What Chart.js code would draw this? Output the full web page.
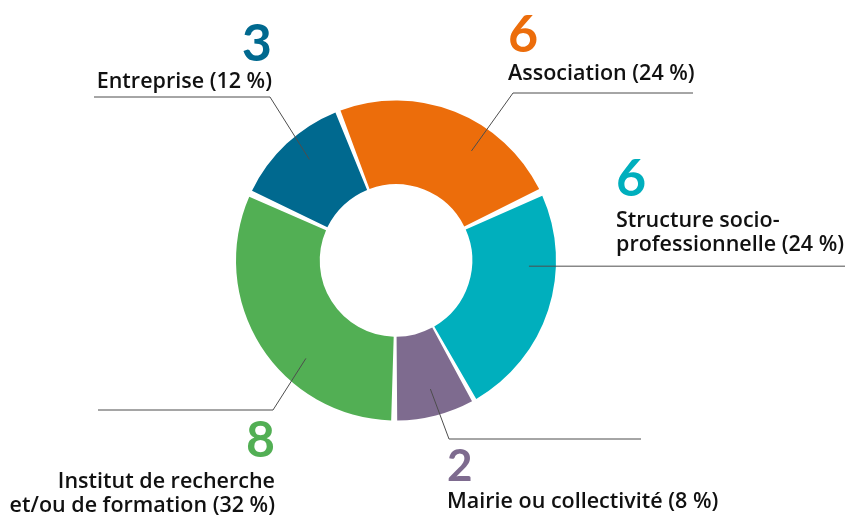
<!DOCTYPE html>
<html>
<head>
<meta charset="utf-8">
<script src="https://cdn.jsdelivr.net/npm/chart.js@4/dist/chart.umd.min.js"></script>
<style>
  html, body { margin: 0; padding: 0; background: #fff; }
  #wrap { position: relative; width: 845px; height: 517px; }
</style>
</head>
<body>
<div id="wrap"><canvas id="chart" width="845" height="517"></canvas></div>
<script>
// ── Data ──
const categories = ['Entreprise', 'Association', 'Structure socio-\nprofessionnelle', 'Mairie ou collectivité', 'Institut de recherche\net/ou de formation'];
const counts = [3, 6, 6, 2, 8];
const colors = ['#00698f', '#ec6d0b', '#00afbd', '#7e6b8f', '#52af54'];

// ── Callout layout (leader lines + text blocks) ──
const callouts = [
  { t: 0.56, elbow: [270, 97], end: 94, align: 'right', x: 272, numY: 61, numSize: 52, textY: 88 },
  { t: 0.65, elbow: [513, 93], end: 693, align: 'left', x: 508, numY: 52, numSize: 52, textY: 80 },
  { t: 0.32, elbow: null, end: 845, align: 'left', x: 616, numY: 196, numSize: 52, textY: 227 },
  { t: 0.48, elbow: [449, 439], end: 641, align: 'left', x: 447, numY: 481, numSize: 44, textY: 508 },
  { t: 0.37, elbow: [273, 410], end: 98, align: 'right', x: 275, numY: 457, numSize: 50, textY: 488 }
];

const total = counts.reduce((a, b) => a + b, 0);

const calloutPlugin = {
  id: 'callouts',
  afterDatasetsDraw(chart) {
    const ctx = chart.ctx;
    const arcs = chart.getDatasetMeta(0).data;
    arcs.forEach((arc, i) => {
      const c = callouts[i];
      const { x, y, startAngle, endAngle, innerRadius, outerRadius } =
        arc.getProps(['x', 'y', 'startAngle', 'endAngle', 'innerRadius', 'outerRadius'], true);
      const a = startAngle + c.t * (endAngle - startAngle);
      const r = innerRadius + 0.72 * (outerRadius - innerRadius);
      const px = x + r * Math.cos(a), py = y + r * Math.sin(a);

      ctx.save();
      ctx.strokeStyle = '#4d4d4d';
      ctx.lineWidth = 1;
      ctx.beginPath();
      ctx.moveTo(px, py);
      let ly = py;
      if (c.elbow) { ctx.lineTo(c.elbow[0], c.elbow[1]); ly = c.elbow[1]; }
      ctx.lineTo(c.end, ly);
      ctx.stroke();

      ctx.textAlign = c.align;
      ctx.textBaseline = 'alphabetic';
      ctx.fillStyle = colors[i];
      ctx.font = 'bold ' + c.numSize + 'px Lato, sans-serif';
      ctx.fillText(String(counts[i]), c.x, c.numY);

      const pct = Math.round(counts[i] / total * 100);
      const lines = categories[i].split('\n');
      lines[lines.length - 1] += ' (' + pct + ' %)';
      ctx.fillStyle = '#111';
      ctx.font = '600 21.5px "Open Sans", sans-serif';
      lines.forEach((ln, k) => ctx.fillText(ln, c.x, c.textY + k * 24));
      ctx.restore();
    });
  }
};

new Chart(document.getElementById('chart'), {
  type: 'doughnut',
  data: {
    labels: categories,
    datasets: [{
      data: counts,
      backgroundColor: colors,
      borderWidth: 0
    }]
  },
  options: {
    responsive: false,
    animation: false,
    rotation: -64.8,
    cutout: '46.5%',
    spacing: 7,
    layout: { padding: { left: 236, right: 289, top: 100, bottom: 96 } },
    plugins: { legend: { display: false }, tooltip: { enabled: false } }
  },
  plugins: [calloutPlugin]
});
</script>
</body>
</html>
